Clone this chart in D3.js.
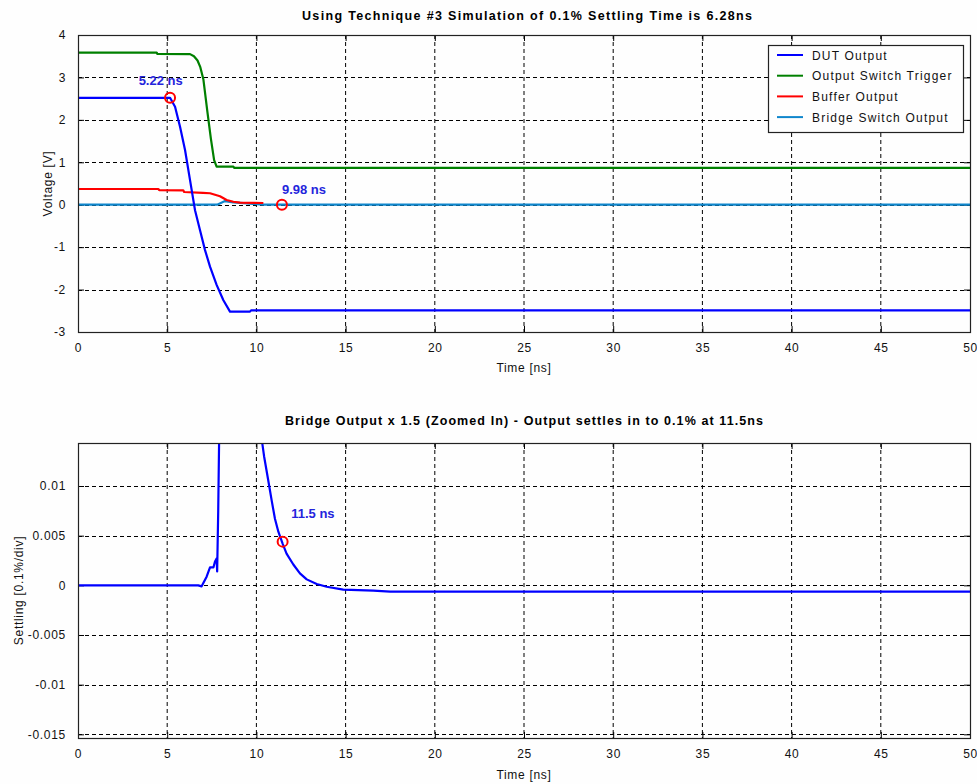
<!DOCTYPE html>
<html>
<head>
<meta charset="utf-8">
<script src="https://cdn.jsdelivr.net/npm/d3@7"></script>
<style>
  body { margin: 0; background: #fefefe; }
  svg { display: block; font-family: Arial, "Liberation Sans", sans-serif; }
  .tick text { font-size: 12px; fill: #111; letter-spacing: 0.7px; }
  .grid line { stroke: #000; stroke-width: 1; stroke-dasharray: 4,3; }
  .title { font-size: 12.5px; font-weight: bold; fill: #000; }
  .label { font-size: 12px; fill: #111; letter-spacing: 0.7px; }
  .legend text { font-size: 12px; fill: #111; letter-spacing: 1.2px; }
  .note { font-size: 13px; font-weight: bold; fill: #2424dc; }
</style>
</head>
<body>
<div id="chart"></div>
<script>
// ---------- data ----------
var xTicks = [0, 5, 10, 15, 20, 25, 30, 35, 40, 45, 50]
var topYTicks = [4, 3, 2, 1, 0, -1, -2, -3]
var botYTicks = [0.01, 0.005, 0, -0.005, -0.01, -0.015]
var botYLabels = ["0.01", "0.005", "0", "-0.005", "-0.01", "-0.015"]

var topTitle = "Using Technique #3 Simulation of 0.1% Settling Time is 6.28ns"
var botTitle = "Bridge Output x 1.5 (Zoomed In) - Output settles in to 0.1% at 11.5ns"

var seriesNames = ["DUT Output", "Output Switch Trigger", "Buffer Output", "Bridge Switch Output"]
var seriesColors = ["#0000ff", "#008000", "#ff0000", "#0f86cc"]

// DUT Output
var dutT = [0, 5.16, 5.44, 5.72, 6.0, 6.28, 6.56, 6.84, 7.12, 7.40, 7.77, 8.15, 8.52, 9.64, 9.70, 50]
var dutV = [2.52, 2.52, 2.31, 1.84, 1.29, 0.58, -0.13, -0.60, -1.07, -1.46, -1.89, -2.25, -2.52, -2.52, -2.49, -2.49]
// Output Switch Trigger
var trigT = [0, 4.41, 4.45, 6.28, 6.5, 6.7, 6.85, 7.03, 7.25, 7.45, 7.63, 7.77, 8.71, 8.75, 50]
var trigV = [3.585, 3.585, 3.555, 3.55, 3.5, 3.4, 3.25, 2.95, 2.2, 1.55, 1.05, 0.90, 0.90, 0.87, 0.87]
// Buffer Output
var bufT = [0, 4.5, 4.55, 5.9, 5.95, 7.0, 7.4, 7.96, 8.33, 8.71, 9.08, 10.39]
var bufV = [0.37, 0.37, 0.345, 0.34, 0.30, 0.28, 0.27, 0.20, 0.11, 0.07, 0.05, 0.04]
// Bridge Switch Output
var bridgeT = [0, 7.8, 8.24, 8.71, 9.46, 10.02, 10.4, 50]
var bridgeV = [0, 0, 0.085, 0.055, 0.03, 0.015, 0, 0]

// Bridge output x 1.5 (zoomed)
var settleT = [0, 6.74, 6.93, 7.21, 7.40, 7.59, 7.68, 7.77, 7.80, 7.86, 7.92, 8.1, 9.0, 10.0, 10.33, 10.43, 10.67, 10.86, 11.04, 11.23, 11.47, 11.69, 12.07, 12.44, 12.82, 13.38, 13.94, 14.87, 16.55, 17.5, 50]
var settleV = [0, 0, -0.0001, 0.00087, 0.0018, 0.0018, 0.0024, 0.0027, 0.0014, 0.0075, 0.016, 0.06, 0.1, 0.03, 0.0143, 0.013, 0.0105, 0.0085, 0.0067, 0.0054, 0.0042, 0.0032, 0.0021, 0.0012, 0.0006, 0.00013, -0.00014, -0.00044, -0.00054, -0.00064, -0.00064]

// markers [t, v] and their labels
var topMarkers = [[5.16, 2.52], [11.43, 0]]
var topNotes = [[3.4, 2.82, "5.22 ns"], [11.43, 0.25, "9.98 ns"]]
var botMarkers = [[11.47, 0.0044]]
var botNotes = [[11.95, 0.0068, "11.5 ns"]]

// ---------- layout ----------
var W = 977, H = 784
var left = 78, right = 970
var topBox = {y0: 35, y1: 332}
var botBox = {y0: 443, y1: 738}

var svg = d3.select("#chart").append("svg")
  .attr("width", W).attr("height", H)

var x = d3.scaleLinear().domain([0, 50]).range([left, right])
var yTop = d3.scaleLinear().domain([-3, 4]).range([topBox.y1, topBox.y0])
var yBot = d3.scaleLinear().domain([-0.01537, 0.01433]).range([botBox.y1, botBox.y0])

function zip(ts, vs){
  var out = []
  for(var i = 0; i < ts.length; i++){
    out.push([ts[i], vs[i]])
  }
  return out
}

function drawFrame(box, y, yTicks, yFmt, id){
  var h = box.y1 - box.y0

  // dashed grid
  var grid = svg.append("g").attr("class", "grid")
  grid.selectAll(".gx").data(xTicks.slice(1, -1)).enter().append("line")
    .attr("x1", function(d){ return x(d) }).attr("x2", function(d){ return x(d) })
    .attr("y1", box.y0).attr("y2", box.y1)
  grid.selectAll(".gy").data(yTicks).enter().append("line")
    .attr("x1", left).attr("x2", right)
    .attr("y1", function(d){ return Math.round(y(d)) + 0.5 })
    .attr("y2", function(d){ return Math.round(y(d)) + 0.5 })

  // axes with inward ticks
  var ax = svg.append("g").attr("transform", "translate(0," + box.y1 + ")")
    .call(d3.axisBottom(x).tickValues(xTicks).tickSize(-6).tickPadding(11))
  var axTop = svg.append("g").attr("transform", "translate(0," + box.y0 + ")")
    .call(d3.axisTop(x).tickValues(xTicks).tickSize(-6).tickFormat(""))
  var ay = svg.append("g").attr("transform", "translate(" + left + ",0)")
    .call(d3.axisLeft(y).tickValues(yTicks).tickSize(-6).tickPadding(12).tickFormat(yFmt))
  var ayR = svg.append("g").attr("transform", "translate(" + right + ",0)")
    .call(d3.axisRight(y).tickValues(yTicks).tickSize(-6).tickFormat(""))
  ;[ax, axTop, ay, ayR].forEach(function(a){
    a.select(".domain").remove()
    a.selectAll(".tick line").attr("stroke", "#000")
  })

  svg.append("clipPath").attr("id", id).append("rect")
    .attr("x", left).attr("y", box.y0).attr("width", right - left).attr("height", h)
}

function drawBorder(box){
  svg.append("rect")
    .attr("x", left + 0.5).attr("y", box.y0 + 0.5)
    .attr("width", right - left).attr("height", box.y1 - box.y0)
    .attr("fill", "none").attr("stroke", "#222").attr("stroke-width", 1.2)
}

// ---------- top panel ----------
drawFrame(topBox, yTop, topYTicks, function(d){ return String(d).replace("\u2212", "-") }, "clipTop")

var lineTop = d3.line().x(function(d){ return x(d[0]) }).y(function(d){ return yTop(d[1]) })
var topSeries = [zip(bridgeT, bridgeV), zip(bufT, bufV), zip(trigT, trigV), zip(dutT, dutV)]
var topColors = [seriesColors[3], seriesColors[2], seriesColors[1], seriesColors[0]]

svg.append("g").attr("clip-path", "url(#clipTop)")
  .selectAll("path").data(topSeries).enter().append("path")
  .attr("d", lineTop)
  .attr("fill", "none")
  .attr("stroke", function(d, i){ return topColors[i] })
  .attr("stroke-width", 2.2)
  .attr("stroke-linejoin", "round")

svg.selectAll(".mTop").data(topMarkers).enter().append("circle")
  .attr("cx", function(d){ return x(d[0]) }).attr("cy", function(d){ return yTop(d[1]) })
  .attr("r", 5).attr("fill", "none").attr("stroke", "#ff0000").attr("stroke-width", 2)

svg.selectAll(".nTop").data(topNotes).enter().append("text")
  .attr("class", "note")
  .attr("x", function(d){ return x(d[0]) }).attr("y", function(d){ return yTop(d[1]) })
  .text(function(d){ return d[2] })

drawBorder(topBox)

svg.append("text").attr("class", "title")
  .attr("x", (left + right) / 2 + 3).attr("y", 20)
  .attr("text-anchor", "middle")
  .attr("textLength", 450).attr("lengthAdjust", "spacing")
  .text(topTitle)

svg.append("text").attr("class", "label")
  .attr("x", (left + right) / 2).attr("y", 372)
  .attr("text-anchor", "middle").text("Time [ns]")

svg.append("text").attr("class", "label")
  .attr("transform", "translate(52," + (topBox.y0 + topBox.y1) / 2 + ") rotate(-90)")
  .attr("text-anchor", "middle").text("Voltage [V]")

// legend
var lg = svg.append("g").attr("class", "legend").attr("transform", "translate(768,45)")
lg.append("rect").attr("x", 0.5).attr("y", 0.5).attr("width", 195).attr("height", 87)
  .attr("fill", "#fefefe").attr("stroke", "#222").attr("stroke-width", 1.2)
var items = lg.selectAll(".item").data(seriesNames).enter().append("g")
  .attr("transform", function(d, i){ return "translate(0," + (10 + i * 20.7) + ")" })
items.append("line").attr("x1", 9).attr("x2", 35).attr("y1", 0).attr("y2", 0)
  .attr("stroke", function(d, i){ return seriesColors[i] }).attr("stroke-width", 2)
items.append("text").attr("x", 44).attr("y", 4.5)
  .text(function(d){ return d })

// ---------- bottom panel ----------
drawFrame(botBox, yBot, botYTicks, function(d, i){ return botYLabels[i] }, "clipBot")

var lineBot = d3.line().x(function(d){ return x(d[0]) }).y(function(d){ return yBot(d[1]) })
svg.append("g").attr("clip-path", "url(#clipBot)")
  .append("path").datum(zip(settleT, settleV))
  .attr("d", lineBot)
  .attr("fill", "none").attr("stroke", seriesColors[0]).attr("stroke-width", 2.2)
  .attr("stroke-linejoin", "round")

svg.selectAll(".mBot").data(botMarkers).enter().append("circle")
  .attr("cx", function(d){ return x(d[0]) }).attr("cy", function(d){ return yBot(d[1]) })
  .attr("r", 5).attr("fill", "none").attr("stroke", "#ff0000").attr("stroke-width", 2)

svg.selectAll(".nBot").data(botNotes).enter().append("text")
  .attr("class", "note")
  .attr("x", function(d){ return x(d[0]) }).attr("y", function(d){ return yBot(d[1]) })
  .text(function(d){ return d[2] })

drawBorder(botBox)

svg.append("text").attr("class", "title")
  .attr("x", (left + right) / 2).attr("y", 425)
  .attr("text-anchor", "middle")
  .attr("textLength", 478).attr("lengthAdjust", "spacing")
  .text(botTitle)

svg.append("text").attr("class", "label")
  .attr("x", (left + right) / 2).attr("y", 779)
  .attr("text-anchor", "middle").text("Time [ns]")

svg.append("text").attr("class", "label")
  .attr("transform", "translate(23," + (botBox.y0 + botBox.y1) / 2 + ") rotate(-90)")
  .attr("text-anchor", "middle").text("Settling [0.1%/div]")
</script>
</body>
</html>
